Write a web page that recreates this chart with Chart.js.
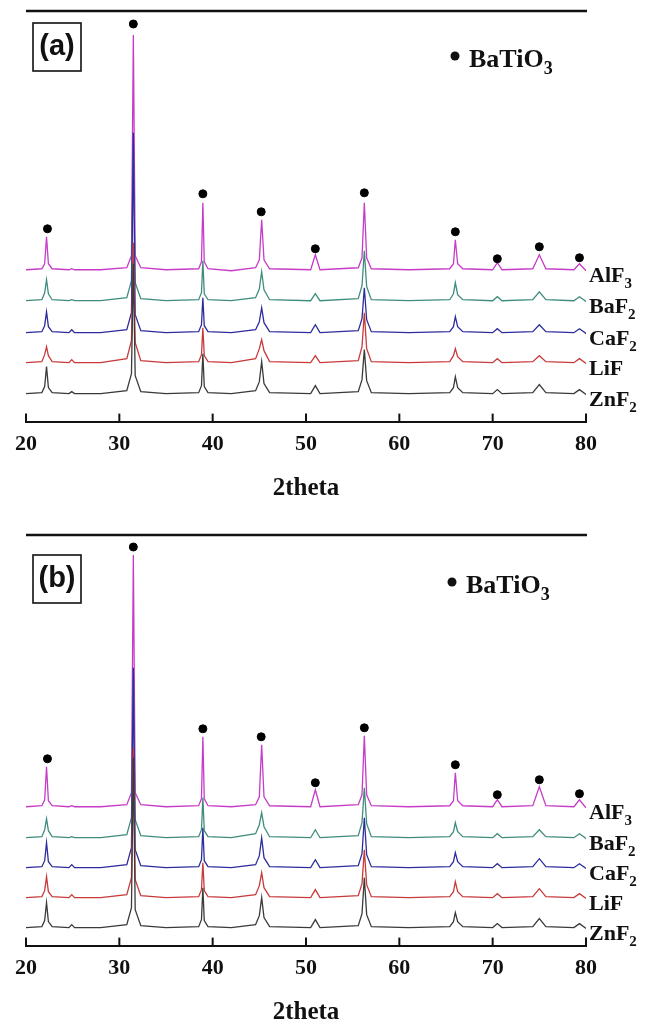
<!DOCTYPE html>
<html>
<head>
<meta charset="utf-8">
<script src="https://cdn.jsdelivr.net/npm/chart.js@4.4.1/dist/chart.umd.min.js"></script>
<style>
  html, body { margin: 0; padding: 0; background: #fff; overflow: hidden; }
  canvas { display: block; }
</style>
</head>
<body>
<canvas id="chartA" width="660" height="508"></canvas>
<canvas id="chartB" width="660" height="520"></canvas>
<script>
// 2theta positions shared by all patterns
const twoTheta = [
  20, 21.7, 22.0, 22.2, 22.4, 22.8,
  24.6, 24.9, 25.2,
  28,
  30.8, 31.3, 31.5, 31.7, 32.3,
  35,
  38.5, 38.8, 38.95, 39.1, 39.5,
  42,
  44.6, 45.0, 45.25, 45.5, 46.1,
  50.5, 51.0, 51.5,
  55.6, 56.0, 56.25, 56.5, 57.0,
  61,
  65.4, 65.8, 66.0, 66.25, 66.8,
  70.0, 70.5, 71.0,
  74.3, 75.0, 75.7,
  78.7, 79.3, 79.9, 80
];

const seriesNames = ["AlF3", "BaF2", "CaF2", "LiF", "ZnF2"];
const seriesColors = ["#c63cc6", "#3f8c7e", "#2c2c9c", "#c83a3a", "#3a3a3a"];

// panel (a) intensities (arb. units, above each trace's own baseline)
const aAlF3 = [0,1,6,33,6,1, 0,1,0, 0, 2,14,235,14,2, 0, 1,8,67,8,1, -1, 2,10,50,10,1, 0,15,0, 2,12,67,12,1, 0, 1,6,30,6,1, 0,7,0, 1,15,1, 0,6,0,-1];
const aBaF2 = [0,1,8,21,7,1, 0,1,0, 0, 3,20,150,18,2, 0, 1,8,40,7,1, 0, 3,12,29,11,1, 0,7,0, 2,15,50,14,1, 0, 1,7,18,6,1, 0,4,0, 1,9,1, 0,4,0,-1];
const aCaF2 = [0,1,7,21,6,1, 0,3,0, 0, 3,20,200,18,2, 0, 1,8,35,7,1, 0, 3,11,25,10,1, 0,8,0, 2,14,45,13,1, 0, 1,6,16,6,1, 0,4,0, 1,8,1, 0,4,0,-1];
const aLiF  = [0,1,8,16,7,1, 0,3,0, 0, 4,22,120,20,2, 0, 1,8,35,7,1, 0, 4,14,23,12,1, 0,7,0, 2,16,50,14,1, 0, 1,7,14,6,1, 0,4,0, 1,7,1, 0,4,0,-1];
const aZnF2 = [0,1,7,27,6,1, 0,2,0, 0, 3,20,130,18,2, 0, 1,8,40,7,1, 0, 3,12,32,10,1, 0,8,0, 2,14,44,13,1, 0, 1,6,17,6,1, 0,4,0, 1,9,1, 0,4,0,-1];
const aOffsets = [152, 121, 89, 59, 28];

// panel (b) intensities
const bAlF3 = [0,1,7,40,6,1, 0,1,0, 0, 2,14,252,14,2, 0, 1,8,70,8,1, 0, 2,10,62,10,1, 0,17,0, 2,12,71,12,1, 0, 1,6,34,6,1, 0,7,0, 1,20,1, 0,7,0,-1];
const bBaF2 = [0,1,8,19,7,1, 0,1,0, 0, 3,20,160,18,2, 0, 1,8,40,7,1, 0, 4,13,25,11,1, 0,8,0, 2,15,50,14,1, 0, 1,6,15,6,1, 0,4,0, 1,8,1, 0,4,0,-1];
const bCaF2 = [0,1,7,25,6,1, 0,3,0, 0, 3,20,200,18,2, 0, 1,8,40,7,1, 0, 3,12,30,10,1, 0,8,0, 2,14,50,13,1, 0, 1,6,15,6,1, 0,4,0, 1,9,1, 0,4,0,-1];
const bLiF  = [0,1,7,21,6,1, 0,3,0, 0, 3,20,150,18,2, 0, 1,8,35,7,1, 0, 3,12,25,10,1, 0,8,0, 2,14,48,13,1, 0, 1,6,16,6,1, 0,4,0, 1,9,1, 0,4,0,-1];
const bZnF2 = [0,1,7,25,6,1, 0,3,0, 0, 3,20,170,18,2, 0, 1,8,40,7,1, 0, 3,12,30,10,1, 0,8,0, 2,14,50,13,1, 0, 1,6,15,6,1, 0,4,0, 1,9,1, 0,4,0,-1];
const bOffsets = [139, 108, 78, 48, 18];

// BaTiO3 reflections marked with dots
const peakPos = [22.3, 31.5, 38.95, 45.2, 51.0, 56.25, 66.0, 70.5, 75.0, 79.3];
const aMarkY = [193, 398, 228, 210, 173, 229, 190, 163, 175, 164];
const bMarkY = [187, 399, 217, 209, 163, 218, 181, 151, 166, 152];

const xTicks = [20, 30, 40, 50, 60, 70, 80];

function drawSub(ctx, x, y, text, size) {
  const m = text.match(/^(.*?)(\d*)$/);
  ctx.font = "bold " + size + "px 'Liberation Serif'";
  ctx.fillText(m[1], x, y);
  if (m[2]) {
    const w = ctx.measureText(m[1]).width;
    ctx.font = "bold " + Math.round(size * 0.68) + "px 'Liberation Serif'";
    ctx.fillText(m[2], x + w, y + size * 0.28);
  }
}

const decorations = {
  id: "decorations",
  afterDraw(chart, args, opts) {
    const ctx = chart.ctx;
    const area = chart.chartArea;
    const xs = chart.scales.x;
    const ys = chart.scales.y;
    ctx.save();
    ctx.strokeStyle = "#111";
    ctx.fillStyle = "#111";
    // top frame line
    ctx.lineWidth = 2.5;
    ctx.beginPath();
    ctx.moveTo(area.left, area.top);
    ctx.lineTo(area.right + 1, area.top);
    ctx.stroke();
    // inward tick marks
    ctx.lineWidth = 2;
    xTicks.forEach((t) => {
      const px = xs.getPixelForValue(t);
      ctx.beginPath();
      ctx.moveTo(px, area.bottom);
      ctx.lineTo(px, area.bottom - 8);
      ctx.stroke();
    });
    // panel label box
    ctx.lineWidth = 1.6;
    ctx.strokeRect(area.left + 7, area.top + opts.boxTop, 48, 48);
    ctx.font = "bold 29px 'Liberation Sans'";
    ctx.textAlign = "center";
    ctx.textBaseline = "middle";
    ctx.fillText(opts.label, area.left + 31, area.top + opts.boxTop + 24);
    // BaTiO3 key
    ctx.textAlign = "left";
    ctx.textBaseline = "alphabetic";
    ctx.beginPath();
    ctx.arc(opts.keyX, area.top + opts.keyTop, 4.5, 0, Math.PI * 2);
    ctx.fill();
    drawSub(ctx, opts.keyX + 14, area.top + opts.keyTop + 11, "BaTiO3", 26);
    // series names at the right end
    opts.offsets.forEach((off, i) => {
      const py = ys.getPixelForValue(off);
      drawSub(ctx, area.right + 3, py + 12, seriesNames[i], 22);
    });
    ctx.restore();
  }
};

function makeChart(id, traces, offsets, markY, opts) {
  const datasets = traces.map((vals, i) => ({
    type: "line",
    data: twoTheta.map((t, j) => ({ x: t, y: vals[j] + offsets[i] })),
    borderColor: seriesColors[i],
    borderWidth: 1.3,
    pointRadius: 0,
    tension: 0,
    order: 5 - i
  }));
  datasets.push({
    type: "scatter",
    data: peakPos.map((t, j) => ({ x: t, y: markY[j] })),
    backgroundColor: "#000",
    borderColor: "#000",
    pointRadius: 4,
    order: 0
  });
  return new Chart(document.getElementById(id), {
    data: { datasets },
    options: {
      responsive: false,
      animation: false,
      devicePixelRatio: 1,
      layout: { padding: { left: 26, right: 74, top: opts.padTop, bottom: opts.padBottom } },
      plugins: {
        legend: { display: false },
        tooltip: { enabled: false },
        decorations: Object.assign({ offsets }, opts)
      },
      scales: {
        x: {
          type: "linear",
          min: 20,
          max: 80,
          afterBuildTicks: (scale) => { scale.ticks = xTicks.map((v) => ({ value: v })); },
          grid: { display: false, drawTicks: false },
          border: { display: true, color: "#111", width: 2 },
          ticks: {
            color: "#111",
            padding: 10,
            font: { family: "'Liberation Serif'", weight: "bold", size: 22 }
          },
          title: {
            display: true,
            text: "2theta",
            color: "#111",
            padding: { top: 6, bottom: 0 },
            font: { family: "'Liberation Serif'", weight: "bold", size: 25 }
          }
        },
        y: { display: false, min: 0, max: 411 }
      }
    },
    plugins: [decorations]
  });
}

makeChart("chartA", [aAlF3, aBaF2, aCaF2, aLiF, aZnF2], aOffsets, aMarkY,
  { label: "(a)", boxTop: 12, keyX: 455, keyTop: 45, padTop: 11, padBottom: 4 });
makeChart("chartB", [bAlF3, bBaF2, bCaF2, bLiF, bZnF2], bOffsets, bMarkY,
  { label: "(b)", boxTop: 20, keyX: 452, keyTop: 47, padTop: 27, padBottom: 0 });
</script>
</body>
</html>
